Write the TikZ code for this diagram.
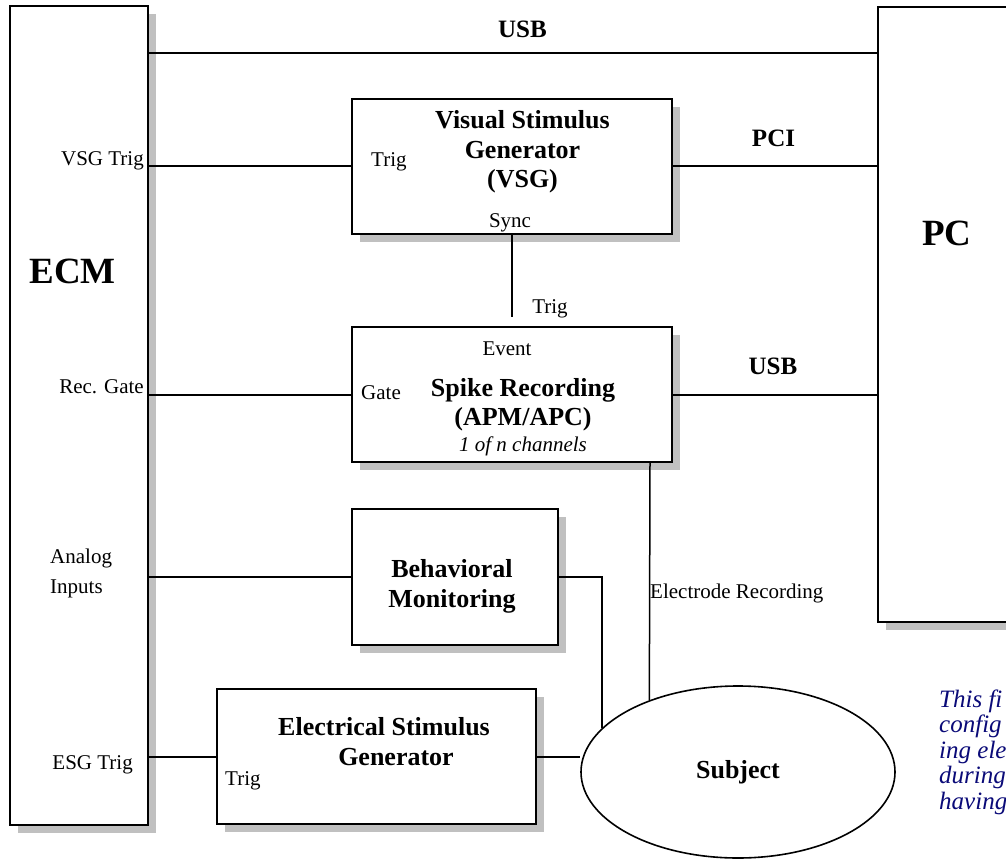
\documentclass[tikz,border=0pt]{standalone}
\usepackage{fontspec}
\setmainfont{Liberation Serif}
\usetikzlibrary{shadows,shapes.geometric}
\definecolor{shadowgray}{RGB}{192,192,192}
\definecolor{notenavy}{RGB}{10,10,120}
\tikzset{
  box/.style={draw, rectangle, line width=2.2pt, fill=white, inner sep=0pt,
    drop shadow={shadow xshift=8pt, shadow yshift=-8pt, fill=shadowgray, opacity=1}},
  wire/.style={line width=2pt},
  thinwire/.style={line width=1.5pt},
  lbl/.style={inner sep=0pt, font=\fontsize{21}{25}\selectfont},
  blbl/.style={inner sep=0pt, font=\fontsize{26}{30}\selectfont\bfseries},
  linklbl/.style={inner sep=0pt, font=\fontsize{25}{30}\selectfont\bfseries},
  biglbl/.style={inner sep=0pt, font=\fontsize{37}{42}\selectfont\bfseries},
  ilbl/.style={inner sep=0pt, font=\fontsize{21}{25}\selectfont\itshape},
  note/.style={inner sep=0pt, anchor=base west, text=notenavy, font=\fontsize{25}{28}\selectfont\itshape},
}
\begin{document}
\begin{tikzpicture}[x=1pt, y=-1pt]
\useasboundingbox (0,0) rectangle (1006,861);
\clip (0,0) rectangle (1006,861);
\fill[white] (0,0) rectangle (1006,861);

% boxes
\node[box, minimum width=138pt, minimum height=819pt] (ECM) at (79,415.5) {};
\node[box, minimum width=170pt, minimum height=615pt] (PC) at (963,314.5) {};
\node[box, minimum width=320pt, minimum height=135pt] (VSG) at (512,166.5) {};
\node[box, minimum width=320pt, minimum height=135pt] (Spike) at (512,394.5) {};
\node[box, minimum width=206pt, minimum height=136pt] (Behav) at (455,577) {};
\node[box, minimum width=319pt, minimum height=135pt] (ESG) at (376.5,756.5) {};
\node[draw, ellipse, line width=1.6pt, fill=white, inner sep=0pt,
      minimum width=314pt, minimum height=172pt] (Subject) at (738,772) {};

% helper coordinates
\coordinate (usbY) at (0,53);
\coordinate (trigEnd) at (512,317);
\coordinate (elX) at (650,0);

% connectors
\draw[wire] (ECM.east |- usbY) -- (PC.west |- usbY);
\draw[wire] (ECM.east |- VSG.west) -- (VSG.west);
\draw[wire] (VSG.east) -- (PC.west |- VSG.east);
\draw[wire] (VSG.south) -- (trigEnd);
\draw[wire] (ECM.east |- Spike.west) -- (Spike.west);
\draw[wire] (Spike.east) -- (PC.west |- Spike.east);
\draw[wire] (ECM.east |- Behav.west) -- (Behav.west);
\draw[wire] (Behav.east) -| (Subject.162);
\draw[wire] (ECM.east |- ESG.west) -- (ESG.west);
\draw[wire] (ESG.east) -- (ESG.east -| Subject.west);
\draw[thinwire] (Spike.south -| elX) -- (Subject.141);

% big labels
\node[biglbl, anchor=base] (tECM) at (72.5,283) {ECM};
\node[biglbl, anchor=base] (tPC) at (947,245) {PC};

% link labels
\node[linklbl, anchor=base] (tUSB1) at (522.5,38) {USB};
\node[linklbl, anchor=base] (tPCI) at (773.5,147) {PCI};
\node[linklbl, anchor=base] (tUSB2) at (773,374) {USB};

% ECM port labels
\node[lbl, anchor=base east] (pVSG) at (144,166) {VSG Trig};
\node[lbl, anchor=base east] (pGate) at (144,393) {Rec. Gate};
\node[lbl, anchor=base west] (pAn1) at (50,563) {Analog};
\node[lbl, anchor=base west] (pAn2) at (50,593) {Inputs};
\node[lbl, anchor=base east] (pESG) at (133,769) {ESG Trig};

% VSG box
\node[blbl, anchor=base] (v1) at (522.5,129) {Visual Stimulus};
\node[blbl, anchor=base] (v2) at (522.5,159) {Generator};
\node[blbl, anchor=base] (v3) at (522.5,188) {(VSG)};
\node[lbl, anchor=base west] (vTrig) at (371,167) {Trig};
\node[lbl, anchor=base] (vSync) at (510,227) {Sync};
\node[lbl, anchor=base] (sTrig) at (550,313) {Trig};

% Spike box
\node[lbl, anchor=base] (sEvent) at (507,355) {Event};
\node[lbl, anchor=base west] (sGate) at (361,399) {Gate};
\node[blbl, anchor=base] (s1) at (523,396) {Spike Recording};
\node[blbl, anchor=base] (s2) at (523,425) {(APM/APC)};
\node[ilbl, anchor=base] (s3) at (523,451) {1 of n channels};

% Behavioral box
\node[blbl, anchor=base] (b1) at (452,577) {Behavioral};
\node[blbl, anchor=base] (b2) at (452,607) {Monitoring};

% Electrical stimulus box
\node[blbl, anchor=base] (e1) at (384,735) {Electrical Stimulus};
\node[blbl, anchor=base] (e2) at (396,765) {Generator};
\node[lbl, anchor=base west] (eTrig) at (225,785) {Trig};

% subject & electrode
\node[blbl, anchor=base] (tSubj) at (738,778) {Subject};
\node[lbl, anchor=base west] (tElec) at (650,598) {Electrode Recording};

% note text (cut at picture edge)
\node[note] (n1) at (939,707) {This fi};
\node[note] (n2) at (939,732.5) {config};
\node[note] (n3) at (939,758) {ing ele};
\node[note] (n4) at (939,783.5) {during};
\node[note] (n5) at (939,809) {having};
\end{tikzpicture}
\end{document}
